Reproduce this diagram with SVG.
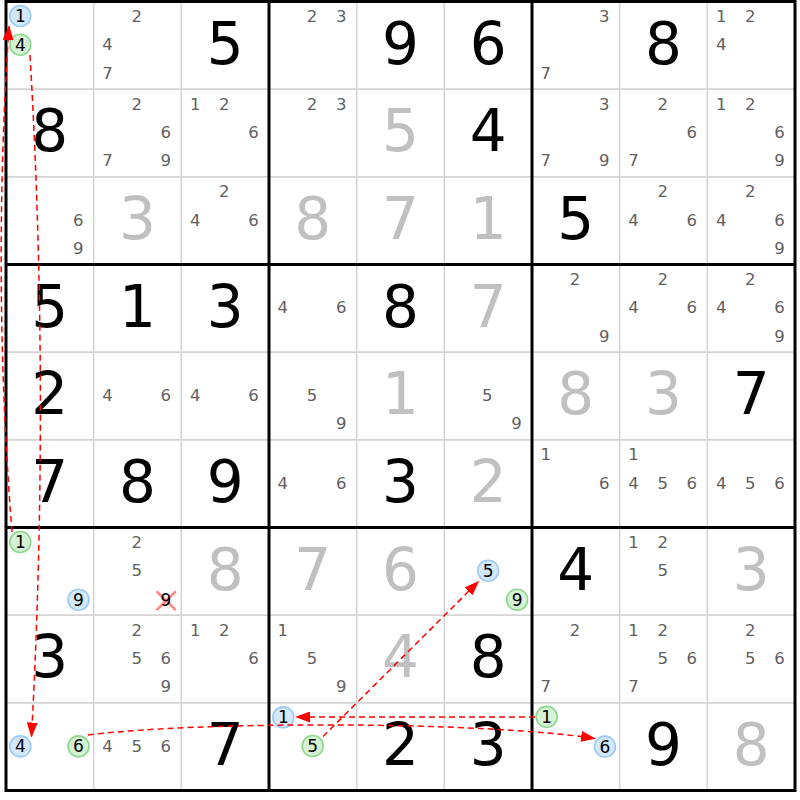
<svg xmlns="http://www.w3.org/2000/svg" width="800" height="800" viewBox="0 0 800 800">
<defs>
<style>
text{font-family:"DejaVu Sans",Verdana,sans-serif;}
.g{font-size:58px;fill:#000;text-anchor:middle}
.s{font-size:58px;fill:#c0c0c0;text-anchor:middle}
.c{font-size:16.5px;fill:#5f5f5f;text-anchor:middle}
.k{font-size:17px;fill:#000;text-anchor:middle}
.bl{fill:#d4e8fc;stroke:#9ccaf6;stroke-width:1.6}
.gr{fill:#d6f2d6;stroke:#8ed88e;stroke-width:1.6}
.thin{stroke:#d4d4d4;stroke-width:1.6}
.thick{stroke:#000;stroke-width:3}
.arr{fill:none;stroke:#ff0000;stroke-width:1.5;stroke-dasharray:6 4;marker-end:url(#ah)}
.x{stroke:#ff8a8a;stroke-width:2.5;stroke-linecap:round}
</style>
<marker id="ah" markerUnits="userSpaceOnUse" markerWidth="15" markerHeight="11" refX="14" refY="5.5" orient="auto"><path d="M0,0 L15,5.5 L0,11 z" fill="#ff0000"/></marker>
</defs>
<rect x="0" y="0" width="800" height="800" fill="#fff"/>
<g id="grid">
<g class="thin">
<line x1="93.67" y1="1.5" x2="93.67" y2="790.5"/><line x1="181.33" y1="1.5" x2="181.33" y2="790.5"/>
<line x1="356.67" y1="1.5" x2="356.67" y2="790.5"/><line x1="444.33" y1="1.5" x2="444.33" y2="790.5"/>
<line x1="619.67" y1="1.5" x2="619.67" y2="790.5"/><line x1="707.33" y1="1.5" x2="707.33" y2="790.5"/>
<line x1="6" y1="89.17" x2="795" y2="89.17"/><line x1="6" y1="176.83" x2="795" y2="176.83"/>
<line x1="6" y1="352.17" x2="795" y2="352.17"/><line x1="6" y1="439.83" x2="795" y2="439.83"/>
<line x1="6" y1="615.17" x2="795" y2="615.17"/><line x1="6" y1="702.83" x2="795" y2="702.83"/>
</g>
<g class="thick">
<line x1="269" y1="1.5" x2="269" y2="790.5"/><line x1="532" y1="1.5" x2="532" y2="790.5"/>
<line x1="6" y1="264.5" x2="795" y2="264.5"/><line x1="6" y1="527.5" x2="795" y2="527.5"/>
<rect x="6" y="1.5" width="789" height="789" fill="none"/>
</g>
</g>

<!-- Row 0 -->
<g id="r0c0" transform="translate(6,1.5)"><circle class="bl" cx="14.3" cy="14.5" r="10.5"/><text class="k" x="14.3" y="20.6">1</text><circle class="gr" cx="14.3" cy="43.2" r="10.5"/><text class="k" x="14.3" y="49.3">4</text></g>
<g id="r0c1" transform="translate(93.67,1.5)"><text class="c" x="43" y="20.5">2</text><text class="c" x="13.8" y="48.7">4</text><text class="c" x="13.8" y="77">7</text></g>
<g id="r0c2" transform="translate(181.33,1.5)"><text class="g" x="43.8" y="62">5</text></g>
<g id="r0c3" transform="translate(269,1.5)"><text class="c" x="43" y="20.5">2</text><text class="c" x="72.2" y="20.5">3</text></g>
<g id="r0c4" transform="translate(356.67,1.5)"><text class="g" x="43.8" y="62">9</text></g>
<g id="r0c5" transform="translate(444.33,1.5)"><text class="g" x="43.8" y="62">6</text></g>
<g id="r0c6" transform="translate(532,1.5)"><text class="c" x="72.2" y="20.5">3</text><text class="c" x="13.8" y="77">7</text></g>
<g id="r0c7" transform="translate(619.67,1.5)"><text class="g" x="43.8" y="62">8</text></g>
<g id="r0c8" transform="translate(707.33,1.5)"><text class="c" x="13.8" y="20.5">1</text><text class="c" x="43" y="20.5">2</text><text class="c" x="13.8" y="48.7">4</text></g>

<!-- Row 1 -->
<g id="r1c0" transform="translate(6,89.17)"><text class="g" x="43.8" y="62">8</text></g>
<g id="r1c1" transform="translate(93.67,89.17)"><text class="c" x="43" y="20.5">2</text><text class="c" x="72.2" y="48.7">6</text><text class="c" x="13.8" y="77">7</text><text class="c" x="72.2" y="77">9</text></g>
<g id="r1c2" transform="translate(181.33,89.17)"><text class="c" x="13.8" y="20.5">1</text><text class="c" x="43" y="20.5">2</text><text class="c" x="72.2" y="48.7">6</text></g>
<g id="r1c3" transform="translate(269,89.17)"><text class="c" x="43" y="20.5">2</text><text class="c" x="72.2" y="20.5">3</text></g>
<g id="r1c4" transform="translate(356.67,89.17)"><text class="s" x="43.8" y="62">5</text></g>
<g id="r1c5" transform="translate(444.33,89.17)"><text class="g" x="43.8" y="62">4</text></g>
<g id="r1c6" transform="translate(532,89.17)"><text class="c" x="72.2" y="20.5">3</text><text class="c" x="13.8" y="77">7</text><text class="c" x="72.2" y="77">9</text></g>
<g id="r1c7" transform="translate(619.67,89.17)"><text class="c" x="43" y="20.5">2</text><text class="c" x="72.2" y="48.7">6</text><text class="c" x="13.8" y="77">7</text></g>
<g id="r1c8" transform="translate(707.33,89.17)"><text class="c" x="13.8" y="20.5">1</text><text class="c" x="43" y="20.5">2</text><text class="c" x="72.2" y="48.7">6</text><text class="c" x="72.2" y="77">9</text></g>

<!-- Row 2 -->
<g id="r2c0" transform="translate(6,176.83)"><text class="c" x="72.2" y="48.7">6</text><text class="c" x="72.2" y="77">9</text></g>
<g id="r2c1" transform="translate(93.67,176.83)"><text class="s" x="43.8" y="62">3</text></g>
<g id="r2c2" transform="translate(181.33,176.83)"><text class="c" x="43" y="20.5">2</text><text class="c" x="13.8" y="48.7">4</text><text class="c" x="72.2" y="48.7">6</text></g>
<g id="r2c3" transform="translate(269,176.83)"><text class="s" x="43.8" y="62">8</text></g>
<g id="r2c4" transform="translate(356.67,176.83)"><text class="s" x="43.8" y="62">7</text></g>
<g id="r2c5" transform="translate(444.33,176.83)"><text class="s" x="43.8" y="62">1</text></g>
<g id="r2c6" transform="translate(532,176.83)"><text class="g" x="43.8" y="62">5</text></g>
<g id="r2c7" transform="translate(619.67,176.83)"><text class="c" x="43" y="20.5">2</text><text class="c" x="13.8" y="48.7">4</text><text class="c" x="72.2" y="48.7">6</text></g>
<g id="r2c8" transform="translate(707.33,176.83)"><text class="c" x="43" y="20.5">2</text><text class="c" x="13.8" y="48.7">4</text><text class="c" x="72.2" y="48.7">6</text><text class="c" x="72.2" y="77">9</text></g>

<!-- Row 3 -->
<g id="r3c0" transform="translate(6,264.5)"><text class="g" x="43.8" y="62">5</text></g>
<g id="r3c1" transform="translate(93.67,264.5)"><text class="g" x="43.8" y="62">1</text></g>
<g id="r3c2" transform="translate(181.33,264.5)"><text class="g" x="43.8" y="62">3</text></g>
<g id="r3c3" transform="translate(269,264.5)"><text class="c" x="13.8" y="48.7">4</text><text class="c" x="72.2" y="48.7">6</text></g>
<g id="r3c4" transform="translate(356.67,264.5)"><text class="g" x="43.8" y="62">8</text></g>
<g id="r3c5" transform="translate(444.33,264.5)"><text class="s" x="43.8" y="62">7</text></g>
<g id="r3c6" transform="translate(532,264.5)"><text class="c" x="43" y="20.5">2</text><text class="c" x="72.2" y="77">9</text></g>
<g id="r3c7" transform="translate(619.67,264.5)"><text class="c" x="43" y="20.5">2</text><text class="c" x="13.8" y="48.7">4</text><text class="c" x="72.2" y="48.7">6</text></g>
<g id="r3c8" transform="translate(707.33,264.5)"><text class="c" x="43" y="20.5">2</text><text class="c" x="13.8" y="48.7">4</text><text class="c" x="72.2" y="48.7">6</text><text class="c" x="72.2" y="77">9</text></g>

<!-- Row 4 -->
<g id="r4c0" transform="translate(6,352.17)"><text class="g" x="43.8" y="62">2</text></g>
<g id="r4c1" transform="translate(93.67,352.17)"><text class="c" x="13.8" y="48.7">4</text><text class="c" x="72.2" y="48.7">6</text></g>
<g id="r4c2" transform="translate(181.33,352.17)"><text class="c" x="13.8" y="48.7">4</text><text class="c" x="72.2" y="48.7">6</text></g>
<g id="r4c3" transform="translate(269,352.17)"><text class="c" x="43" y="48.7">5</text><text class="c" x="72.2" y="77">9</text></g>
<g id="r4c4" transform="translate(356.67,352.17)"><text class="s" x="43.8" y="62">1</text></g>
<g id="r4c5" transform="translate(444.33,352.17)"><text class="c" x="43" y="48.7">5</text><text class="c" x="72.2" y="77">9</text></g>
<g id="r4c6" transform="translate(532,352.17)"><text class="s" x="43.8" y="62">8</text></g>
<g id="r4c7" transform="translate(619.67,352.17)"><text class="s" x="43.8" y="62">3</text></g>
<g id="r4c8" transform="translate(707.33,352.17)"><text class="g" x="43.8" y="62">7</text></g>

<!-- Row 5 -->
<g id="r5c0" transform="translate(6,439.83)"><text class="g" x="43.8" y="62">7</text></g>
<g id="r5c1" transform="translate(93.67,439.83)"><text class="g" x="43.8" y="62">8</text></g>
<g id="r5c2" transform="translate(181.33,439.83)"><text class="g" x="43.8" y="62">9</text></g>
<g id="r5c3" transform="translate(269,439.83)"><text class="c" x="13.8" y="48.7">4</text><text class="c" x="72.2" y="48.7">6</text></g>
<g id="r5c4" transform="translate(356.67,439.83)"><text class="g" x="43.8" y="62">3</text></g>
<g id="r5c5" transform="translate(444.33,439.83)"><text class="s" x="43.8" y="62">2</text></g>
<g id="r5c6" transform="translate(532,439.83)"><text class="c" x="13.8" y="20.5">1</text><text class="c" x="72.2" y="48.7">6</text></g>
<g id="r5c7" transform="translate(619.67,439.83)"><text class="c" x="13.8" y="20.5">1</text><text class="c" x="13.8" y="48.7">4</text><text class="c" x="43" y="48.7">5</text><text class="c" x="72.2" y="48.7">6</text></g>
<g id="r5c8" transform="translate(707.33,439.83)"><text class="c" x="13.8" y="48.7">4</text><text class="c" x="43" y="48.7">5</text><text class="c" x="72.2" y="48.7">6</text></g>

<!-- Row 6 -->
<g id="r6c0" transform="translate(6,527.5)"><circle class="gr" cx="14.3" cy="14.5" r="10.5"/><text class="k" x="14.3" y="20.6">1</text><circle class="bl" cx="72.5" cy="72.2" r="10.5"/><text class="k" x="72.5" y="78.3">9</text></g>
<g id="r6c1" transform="translate(93.67,527.5)"><text class="c" x="43" y="20.5">2</text><text class="c" x="43" y="48.7">5</text><path class="x" d="M63.5,64.5 L81.5,82 M81.5,64.5 L63.5,82"/><text class="k" x="72.2" y="78.6">9</text></g>
<g id="r6c2" transform="translate(181.33,527.5)"><text class="s" x="43.8" y="62">8</text></g>
<g id="r6c3" transform="translate(269,527.5)"><text class="s" x="43.8" y="62">7</text></g>
<g id="r6c4" transform="translate(356.67,527.5)"><text class="s" x="43.8" y="62">6</text></g>
<g id="r6c5" transform="translate(444.33,527.5)"><circle class="bl" cx="43.8" cy="43.2" r="10.5"/><text class="k" x="43.8" y="49.3">5</text><circle class="gr" cx="72.8" cy="72.2" r="10.5"/><text class="k" x="72.8" y="78.3">9</text></g>
<g id="r6c6" transform="translate(532,527.5)"><text class="g" x="43.8" y="62">4</text></g>
<g id="r6c7" transform="translate(619.67,527.5)"><text class="c" x="13.8" y="20.5">1</text><text class="c" x="43" y="20.5">2</text><text class="c" x="43" y="48.7">5</text></g>
<g id="r6c8" transform="translate(707.33,527.5)"><text class="s" x="43.8" y="62">3</text></g>

<!-- Row 7 -->
<g id="r7c0" transform="translate(6,615.17)"><text class="g" x="43.8" y="62">3</text></g>
<g id="r7c1" transform="translate(93.67,615.17)"><text class="c" x="43" y="20.5">2</text><text class="c" x="43" y="48.7">5</text><text class="c" x="72.2" y="48.7">6</text><text class="c" x="72.2" y="77">9</text></g>
<g id="r7c2" transform="translate(181.33,615.17)"><text class="c" x="13.8" y="20.5">1</text><text class="c" x="43" y="20.5">2</text><text class="c" x="72.2" y="48.7">6</text></g>
<g id="r7c3" transform="translate(269,615.17)"><text class="c" x="13.8" y="20.5">1</text><text class="c" x="43" y="48.7">5</text><text class="c" x="72.2" y="77">9</text></g>
<g id="r7c4" transform="translate(356.67,615.17)"><text class="s" x="43.8" y="62">4</text></g>
<g id="r7c5" transform="translate(444.33,615.17)"><text class="g" x="43.8" y="62">8</text></g>
<g id="r7c6" transform="translate(532,615.17)"><text class="c" x="43" y="20.5">2</text><text class="c" x="13.8" y="77">7</text></g>
<g id="r7c7" transform="translate(619.67,615.17)"><text class="c" x="13.8" y="20.5">1</text><text class="c" x="43" y="20.5">2</text><text class="c" x="43" y="48.7">5</text><text class="c" x="72.2" y="48.7">6</text><text class="c" x="13.8" y="77">7</text></g>
<g id="r7c8" transform="translate(707.33,615.17)"><text class="c" x="43" y="20.5">2</text><text class="c" x="43" y="48.7">5</text><text class="c" x="72.2" y="48.7">6</text></g>

<!-- Row 8 -->
<g id="r8c0" transform="translate(6,702.83)"><circle class="bl" cx="14.3" cy="43.5" r="10.5"/><text class="k" x="14.3" y="49.6">4</text><circle class="gr" cx="72.5" cy="43.5" r="10.5"/><text class="k" x="72.5" y="49.6">6</text></g>
<g id="r8c1" transform="translate(93.67,702.83)"><text class="c" x="13.8" y="48.7">4</text><text class="c" x="43" y="48.7">5</text><text class="c" x="72.2" y="48.7">6</text></g>
<g id="r8c2" transform="translate(181.33,702.83)"><text class="g" x="43.8" y="62">7</text></g>
<g id="r8c3" transform="translate(269,702.83)"><circle class="bl" cx="14.3" cy="14.5" r="10.5"/><text class="k" x="14.3" y="20.6">1</text><circle class="gr" cx="43.7" cy="43.2" r="10.5"/><text class="k" x="43.7" y="49.3">5</text></g>
<g id="r8c4" transform="translate(356.67,702.83)"><text class="g" x="43.8" y="62">2</text></g>
<g id="r8c5" transform="translate(444.33,702.83)"><text class="g" x="43.8" y="62">3</text></g>
<g id="r8c6" transform="translate(532,702.83)"><circle class="gr" cx="14.7" cy="14" r="10.5"/><text class="k" x="14.7" y="20.1">1</text><circle class="bl" cx="73" cy="43.8" r="10.5"/><text class="k" x="73" y="49.9">6</text></g>
<g id="r8c7" transform="translate(619.67,702.83)"><text class="g" x="43.8" y="62">9</text></g>
<g id="r8c8" transform="translate(707.33,702.83)"><text class="s" x="43.8" y="62">8</text></g>

<g id="connectors">
<path class="arr" d="M30,55 Q50,395 31.5,736.5"/>
<path class="arr" d="M12,532 Q-8,280 9,26"/>
<path class="arr" d="M88,735 C200,721 480,721 595,738.5"/>
<path class="arr" d="M535,717 L296,717"/>
<path class="arr" d="M323,736.5 L478.5,581.5"/>
</g>
</svg>
